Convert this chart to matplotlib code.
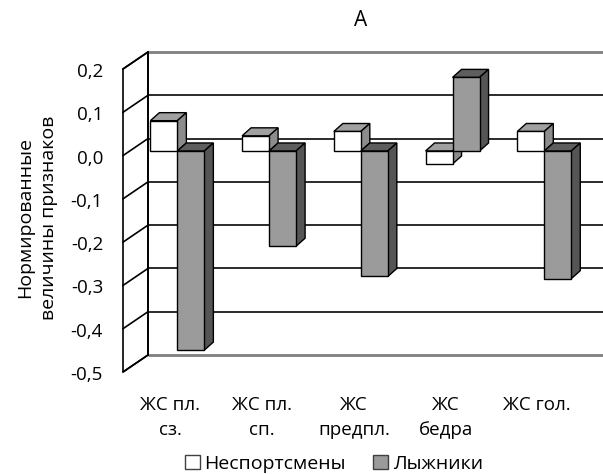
import matplotlib
matplotlib.use("Agg")
import matplotlib.pyplot as plt
from matplotlib.patches import Polygon, Patch

# ---- data -------------------------------------------------------------
categories = ["ЖС пл.\nсз.", "ЖС пл.\nсп.", "ЖС\nпредпл.", "ЖС\nбедра", "ЖС гол."]
series_names = ["Неспортсмены", "Лыжники"]
nonathletes = [0.07, 0.035, 0.045, -0.03, 0.045]
skiers = [-0.46, -0.22, -0.29, 0.17, -0.295]
y_ticks = [0.2, 0.1, 0.0, -0.1, -0.2, -0.3, -0.4, -0.5]
y_tick_labels = ["0,2", "0,1", "0,0", "-0,1", "-0,2", "-0,3", "-0,4", "-0,5"]
title = "А"
y_label = "Нормированные\nвеличины признаков"

plt.rcParams['font.family'] = ['Open Sans', 'DejaVu Sans']
FS_TICK = 13.5
FS_CAT = 13.5
FS_YLAB = 14
FS_LEG = 14
FS_TITLE = 15

W, H = 603, 474
fig = plt.figure(figsize=(W / 100, H / 100), dpi=100)
fig.patch.set_facecolor('white')

# back wall of the 3-D box
ax = fig.add_axes([148 / W, 1 - 355 / H, 455 / W, 303 / H])
X0, X1 = -0.32, 4.64
YMIN, YMAX = -0.5, 0.2
ax.set_xlim(X0, X1)
ax.set_ylim(YMIN, YMAX)
ax.axis('off')

# pixel -> data scale factors
PX_X = 455 / (X1 - X0)
PX_Y = 303 / (YMAX - YMIN)
wall_dx, wall_dy = 25 / PX_X, 17 / PX_Y      # depth of the side wall
bar_dx, bar_dy = 9 / PX_X, 8 / PX_Y          # depth of every column
plane_dy = -12.4 / PX_Y                      # front plane of the columns
bar_w = 27 / PX_X

# side wall
side = Polygon([(X0, YMAX), (X0 - wall_dx, YMAX - wall_dy),
                (X0 - wall_dx, YMIN - wall_dy), (X0, YMIN)],
               closed=True, facecolor='white', edgecolor='black', lw=1.2,
               clip_on=False, zorder=1)
ax.add_patch(side)

# gridlines on back and side walls
for v in y_ticks:
    edge = v in (YMAX, YMIN)
    col = '#7f7f7f' if edge else '#1a1a1a'
    lw = 2.0 if edge else 1.3
    ax.plot([X0, X1 + 1], [v, v], color=col, lw=lw, clip_on=False, zorder=1,
            solid_capstyle='butt')
    ax.plot([X0, X0 - wall_dx], [v, v - wall_dy], color='black', lw=1.2,
            clip_on=False, zorder=1.5)
ax.plot([X0, X0], [YMIN, YMAX], color='black', lw=1.3, zorder=1.6,
        clip_on=False)

# y tick labels at the front edge of the side wall
for v, lab in zip(y_ticks, y_tick_labels):
    ax.text(X0 - wall_dx - 20 / PX_X, v - wall_dy - 3 / PX_Y, lab,
            ha='right', va='center', fontsize=FS_TICK, clip_on=False)

styles = [
    dict(front='white', top='#a0a0a0', side='#8c8c8c'),
    dict(front='#9b9b9b', top='#5e5e5e', side='#555555'),
]


def draw_column(x_left, value, st, z):
    ax.bar(x_left, value, width=bar_w, bottom=plane_dy, align='edge',
           color=st['front'], edgecolor='black', lw=1.0, zorder=z + 0.2)
    lo = plane_dy + min(value, 0)
    hi = plane_dy + max(value, 0)
    xr = x_left + bar_w
    top = Polygon([(x_left, hi), (xr, hi), (xr + bar_dx, hi + bar_dy),
                   (x_left + bar_dx, hi + bar_dy)], closed=True,
                  facecolor=st['top'], edgecolor='black', lw=1.0, zorder=z)
    sidef = Polygon([(xr, lo), (xr, hi), (xr + bar_dx, hi + bar_dy),
                     (xr + bar_dx, lo + bar_dy)], closed=True,
                    facecolor=st['side'], edgecolor='black', lw=1.0, zorder=z)
    ax.add_patch(top)
    ax.add_patch(sidef)


for i, (a, b) in enumerate(zip(nonathletes, skiers)):
    draw_column(i - bar_w, a, styles[0], 3)
    draw_column(i, b, styles[1], 4)

# category labels
for i, lab in enumerate(categories):
    ax.text(i - 7 / PX_X, YMIN - 41 / PX_Y, lab, ha='center', va='top',
            fontsize=FS_CAT, linespacing=1.5, clip_on=False)

fig.text(361 / W, 1 - 21 / H, title, ha='center', va='center',
         fontsize=FS_TITLE)
fig.text(37 / W, 1 - 218 / H, y_label, rotation=90, ha='center',
         va='center', fontsize=FS_YLAB, linespacing=1.45)

handles = [Patch(facecolor=st['front'], edgecolor='#404040', lw=1.0)
           for st in styles]
fig.legend(handles, series_names, ncol=2, frameon=False, loc='center',
           bbox_to_anchor=(334 / W, 1 - 464 / H), fontsize=FS_LEG,
           handlelength=0.75, handleheight=0.75, handletextpad=0.25,
           columnspacing=1.4, borderpad=0)

fig.savefig('out.png', dpi=100)
